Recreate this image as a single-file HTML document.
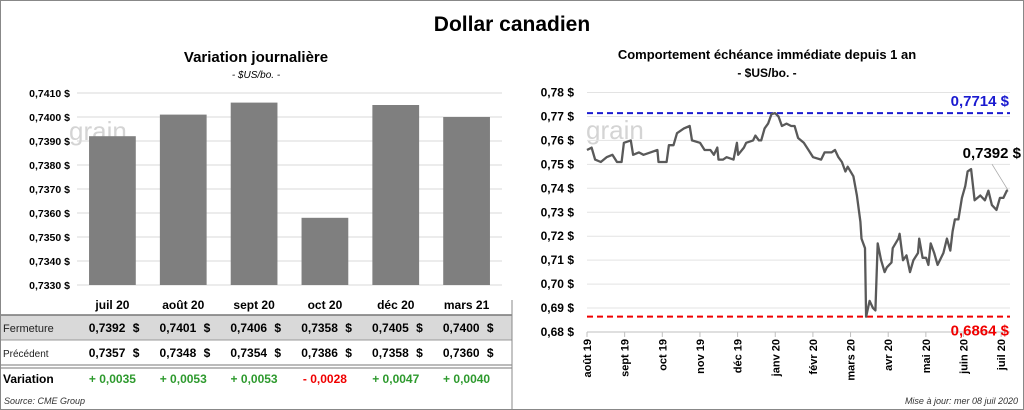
<!DOCTYPE html>
<html><head><meta charset="utf-8">
<style>
html,body{margin:0;padding:0;background:#fff;}
svg{display:block;font-family:"Liberation Sans",Calibri,sans-serif;}
</style></head>
<body>
<svg id="s" width="1024" height="410" viewBox="0 0 1024 410">
<rect x="0.5" y="0.5" width="1023" height="409" fill="#fff" stroke="#888"/>
<text x="512" y="31" text-anchor="middle" font-size="21" font-weight="bold">Dollar canadien</text>
<text x="256" y="62" text-anchor="middle" font-size="15" font-weight="bold">Variation  journalière</text>
<text x="256" y="78" text-anchor="middle" font-size="10" font-style="italic">- $US/bo. -</text>
<text x="767" y="59" text-anchor="middle" font-size="13" font-weight="bold">Comportement échéance immédiate depuis 1 an</text>
<text x="767" y="77" text-anchor="middle" font-size="12" font-weight="bold">- $US/bo. -</text>
<text x="69" y="140" font-size="26" fill="#d4d4d4">grain</text>
<text x="586" y="139" font-size="26" fill="#d4d4d4">grain</text>
<g id="left"></g>
<g id="right"></g>
<g id="tbl"></g>
<text x="4" y="404" font-size="9" font-style="italic" fill="#333">Source: CME Group</text>
<text x="1018" y="404" text-anchor="end" font-size="9" font-style="italic" fill="#333">Mise à jour: mer 08 juil 2020</text>
</svg>
<script>
const barCats=["juil 20","août 20","sept 20","oct 20","déc 20","mars 21"];
const closeVals=[0.7392,0.7401,0.7406,0.7358,0.7405,0.7400];
const prevVals=[0.7357,0.7348,0.7354,0.7386,0.7358,0.7360];
const varVals=[0.0035,0.0053,0.0053,-0.0028,0.0047,0.0040];
const barTicks=[0.7330,0.7340,0.7350,0.7360,0.7370,0.7380,0.7390,0.7400,0.7410];
const lineDays=[0,4,7,12,17,22,26,30,32,38,40,45,49,55,61,62,69,71,75,78,84,89,91,98,102,107,110,113,114,118,121,127,130,131,136,138,144,146,149,151,154,157,160,163,166,169,173,177,180,183,188,192,196,203,206,212,215,218,221,224,226,231,234,237,238,241,242,245,248,250,252,255,258,260,264,265,270,271,274,277,280,283,287,288,291,294,296,298,301,304,309,312,315,317,319,322,325,328,330,333,336,341,345,348,351,355,358,361,364,365];
const lineVals=[0.756,0.757,0.752,0.751,0.753,0.754,0.751,0.751,0.759,0.760,0.754,0.755,0.754,0.755,0.756,0.751,0.751,0.758,0.758,0.763,0.765,0.766,0.760,0.759,0.756,0.756,0.754,0.757,0.752,0.752,0.753,0.752,0.759,0.754,0.757,0.759,0.760,0.762,0.760,0.760,0.765,0.767,0.771,0.7714,0.770,0.766,0.767,0.766,0.766,0.761,0.759,0.756,0.753,0.752,0.755,0.755,0.756,0.753,0.751,0.747,0.749,0.745,0.737,0.726,0.719,0.715,0.6864,0.693,0.690,0.689,0.717,0.710,0.705,0.707,0.709,0.715,0.719,0.721,0.710,0.712,0.705,0.710,0.713,0.719,0.711,0.711,0.708,0.717,0.713,0.708,0.713,0.719,0.714,0.722,0.727,0.727,0.736,0.741,0.747,0.748,0.735,0.737,0.735,0.739,0.733,0.731,0.736,0.736,0.739,0.7392];
const lineTicks=[0.68,0.69,0.70,0.71,0.72,0.73,0.74,0.75,0.76,0.77,0.78];
const monthLabels=["août 19","sept 19","oct 19","nov 19","déc 19","janv 20","févr 20","mars 20","avr 20","mai 20","juin 20","juil 20"];
const highVal=0.7714, lowVal=0.6864, lastVal=0.7392;

const NS="http://www.w3.org/2000/svg";
function mk(p,tag,attrs,txt){const e=document.createElementNS(NS,tag);for(const k in attrs)e.setAttribute(k,attrs[k]);if(txt!==undefined)e.textContent=txt;p.appendChild(e);return e;}
const fmt4=v=>v.toFixed(4).replace('.',',');
const fmt2=v=>v.toFixed(2).replace('.',',');

const L=document.getElementById('left');
const bx0=77,bx1=502,by=v=>285-(v-0.7330)/0.0010*24.0;
const bw=(bx1-bx0)/barCats.length;
barTicks.forEach(t=>{
  const g=mk(L,'line',{x1:bx0,x2:bx1,y1:by(t),y2:by(t),stroke:'#d9d9d9'});
  
  
  const tx=mk(L,'text',{x:70,y:by(t)+4,'text-anchor':'end','font-size':10.5,'font-weight':'bold'},fmt4(t)+' $');
  
  
});
closeVals.forEach((v,i)=>{
  const x=bx0+bw*i+bw*0.17;
  const r=mk(L,'rect',{x:x,y:by(v),width:bw*0.66,height:by(0.7330)-by(v),fill:'#7f7f7f'});
  
  
});

const T=document.getElementById('tbl');
mk(T,'rect',{x:1,y:315,width:511,height:25,fill:'#d9d9d9'});
mk(T,'line',{x1:1,x2:512,y1:315,y2:315,stroke:'#777',"stroke-width":1.5});
mk(T,'line',{x1:1,x2:512,y1:340,y2:340,stroke:'#999'});
mk(T,'line',{x1:1,x2:512,y1:365,y2:365,stroke:'#777'});
mk(T,'line',{x1:1,x2:512,y1:368,y2:368,stroke:'#777'});
mk(T,'line',{x1:512,x2:512,y1:300,y2:410,stroke:'#888'});
const rl1=mk(T,'text',{x:3,y:332,'font-size':11,fill:'#222'},'Fermeture');

const rl2=mk(T,'text',{x:3,y:357,'font-size':10,fill:'#222'},'Précédent');

const rl3=mk(T,'text',{x:3,y:383,'font-size':12,'font-weight':'bold'},'Variation');

barCats.forEach((c,i)=>{
  const cx=bx0+bw*i+bw/2;
  const h=mk(T,'text',{x:cx,y:309,'text-anchor':'middle','font-size':12,'font-weight':'bold'},c);
  
  const a=mk(T,'text',{x:cx+13,y:332,'text-anchor':'end','font-size':12,'font-weight':'bold'},fmt4(closeVals[i]));
  
  mk(T,'text',{x:cx+27,y:332,'text-anchor':'end','font-size':12,'font-weight':'bold'},'$');
  const b=mk(T,'text',{x:cx+13,y:357,'text-anchor':'end','font-size':12,'font-weight':'bold'},fmt4(prevVals[i]));
  
  mk(T,'text',{x:cx+27,y:357,'text-anchor':'end','font-size':12,'font-weight':'bold'},'$');
  const d=varVals[i];
  const s=(d>=0?'+ ':'- ')+fmt4(Math.abs(d));
  const v=mk(T,'text',{x:cx,y:383,'text-anchor':'middle','font-size':12,'font-weight':'bold',fill:d>=0?'#2e9a2e':'#f00000'},s);
  
});

const R=document.getElementById('right');
const lx0=587,lx1=1008,ly=v=>332-(v-0.68)/0.01*23.95;
const lx=d=>lx0+(lx1-lx0)*d/365;
lineTicks.forEach(t=>{
  const g=mk(R,'line',{x1:lx0,x2:1010,y1:ly(t),y2:ly(t),stroke:t===0.68?'#bfbfbf':'#e3e3e3'});
  
  const tx=mk(R,'text',{x:574,y:ly(t)+4,'text-anchor':'end','font-size':12,'font-weight':'bold'},fmt2(t)+' $');
  
});
monthLabels.forEach((m,i)=>{
  const x=lx0+i*37.65;
  mk(R,'line',{x1:x,x2:x,y1:332,y2:337,stroke:'#bfbfbf'});
  const t=mk(R,'text',{x:0,y:0,transform:`translate(${x+4},339) rotate(-90)`,'text-anchor':'end','font-size':11,'font-weight':'bold'},m);
  
});
const hl=mk(R,'line',{x1:lx0,x2:1010,y1:ly(highVal),y2:ly(highVal),stroke:'#1a1ad0','stroke-width':2,'stroke-dasharray':'6,4'});

const ll=mk(R,'line',{x1:lx0,x2:1010,y1:ly(lowVal),y2:ly(lowVal),stroke:'#f00000','stroke-width':2,'stroke-dasharray':'6,4'});

const hlab=mk(R,'text',{x:1009,y:ly(highVal)-7,'text-anchor':'end','font-size':15,'font-weight':'bold',fill:'#1a1ad0'},fmt4(highVal)+' $');

const llab=mk(R,'text',{x:1009,y:ly(lowVal)+19,'text-anchor':'end','font-size':15,'font-weight':'bold',fill:'#f00000'},fmt4(lowVal)+' $');

const pts=lineDays.map((d,i)=>lx(d).toFixed(1)+','+ly(lineVals[i]).toFixed(1)).join(' ');
const pl=mk(R,'polyline',{points:pts,fill:'none',stroke:'#595959','stroke-width':2.3,'stroke-linejoin':'round'});

const lastX=lx(lineDays[lineDays.length-1]),lastY=ly(lastVal);
mk(R,'line',{x1:lastX-16,y1:lastY-26,x2:lastX,y2:lastY,stroke:'#aaa','stroke-width':0.8});
const lab=mk(R,'text',{x:1021,y:lastY-32,'text-anchor':'end','font-size':15,'font-weight':'bold'},fmt4(lastVal)+' $');

</script>
</body></html>
